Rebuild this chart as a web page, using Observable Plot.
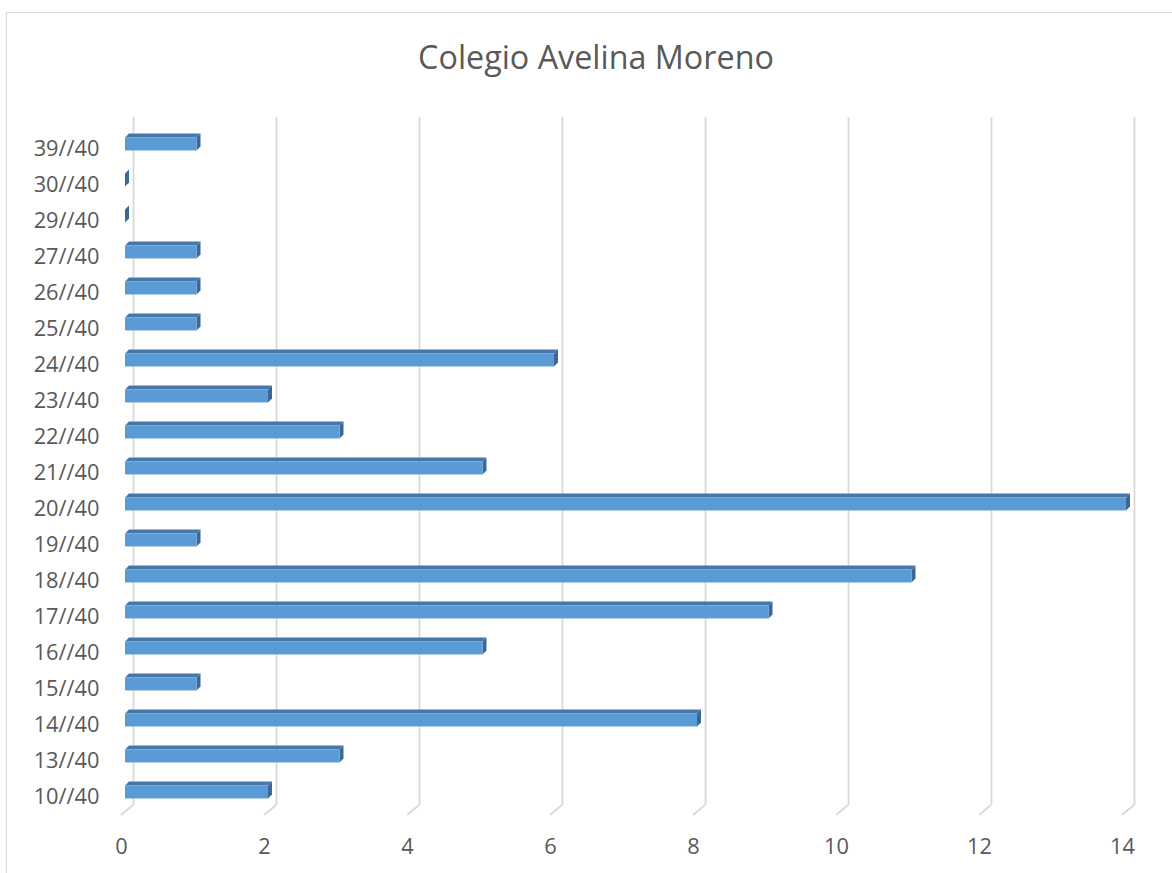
<!DOCTYPE html>
<html>
<head>
<meta charset="utf-8">
<script src="https://cdn.jsdelivr.net/npm/d3@7"></script>
<script src="https://cdn.jsdelivr.net/npm/@observablehq/plot@0.6"></script>
<style>
  html, body { margin: 0; padding: 0; background: #fff; width: 1172px; height: 873px; overflow: hidden; }
  #frame { position: absolute; left: 6px; top: 12px; width: 1200px; height: 900px;
           border-left: 1.5px solid #d9d9d9; border-top: 1.5px solid #d9d9d9; }
  #title { position: absolute; left: 0; width: 1192px; top: 39.5px; text-align: center;
           font-family: "Open Sans", sans-serif; font-size: 32.3px; line-height: 1; color: #595959; }
  #chart { position: absolute; left: 0; top: 100px; }
</style>
</head>
<body>
<div id="frame"></div>
<div id="title">Colegio Avelina Moreno</div>
<div id="chart"></div>
<script>
const categories = ["39//40","30//40","29//40","27//40","26//40","25//40","24//40","23//40","22//40","21//40","20//40","19//40","18//40","17//40","16//40","15//40","14//40","13//40","10//40"];
const values = [1,0,0,1,1,1,6,2,3,5,14,1,11,9,5,1,8,3,2];
const xTicks = [0,2,4,6,8,10,12,14];

const rows = categories.map((c, i) => ({cat: c, value: values[i]}));

const FRONT = "#5B9BD5", TOP = "#4677AA", SIDE = "#3B6894", GRID = "#D9D9D9", TEXT = "#595959";
const D = 4;      // bar depth offset
const HALF = 6.5; // half height of bar front face

function gridDiagonals(index, scales) {
  const g = d3.create("svg:g").attr("stroke", GRID).attr("stroke-width", 1.8).attr("fill", "none");
  xTicks.forEach(t => {
    const x = scales.x(t);
    g.append("path").attr("d", `M${x + 8},${705}L${x - 4},${715}`);
  });
  return g.node();
}

function barFaces(index, scales) {
  const {x, y} = scales;
  const bw = y.bandwidth();
  const g = d3.create("svg:g");
  rows.forEach(d => {
    const yc = y(d.cat) + bw / 2;
    const top = yc - HALF, bot = yc + HALF;
    const x0 = x(0), x1 = x(d.value);
    if (d.value > 0) {
      g.append("path")
        .attr("d", `M${x0},${top}L${x0 + D},${top - D}L${x1 + D},${top - D}L${x1},${top}Z`)
        .attr("fill", TOP);
    }
    g.append("path")
      .attr("d", `M${x1},${top}L${x1 + D},${top - D}L${x1 + D},${bot - D}L${x1},${bot}Z`)
      .attr("fill", SIDE);
  });
  return g.node();
}

const bandInset = (36.1 - 2 * HALF) / 2;

const chart = Plot.plot({
  width: 1172,
  height: 773,
  marginLeft: 125,
  marginRight: 46,
  marginTop: 25.45,
  marginBottom: 61.5,
  style: {fontFamily: "Open Sans, sans-serif", background: "transparent"},
  x: {domain: [0, 14], axis: null},
  y: {domain: categories, padding: 0, axis: null},
  marks: [
    Plot.ruleX(xTicks, {x: d => d, dx: 8, stroke: GRID, strokeWidth: 1.8, insetTop: -8.45, insetBottom: 6.5}),
    gridDiagonals,
    barFaces,
    Plot.barX(rows, {x1: 0, x2: "value", y: "cat", fill: FRONT, insetTop: bandInset, insetBottom: bandInset}),
    Plot.text(categories, {y: d => d, text: d => d, frameAnchor: "left", textAnchor: "end", lineAnchor: "middle",
      dx: -26, dy: 5, fontSize: 21.8, fill: TEXT}),
    Plot.text(xTicks, {x: d => d, text: d => String(d), frameAnchor: "bottom", lineAnchor: "middle",
      dx: -4, dy: 35.5, fontSize: 21.8, fill: TEXT})
  ]
});
document.getElementById("chart").appendChild(chart);
</script>
</body>
</html>
